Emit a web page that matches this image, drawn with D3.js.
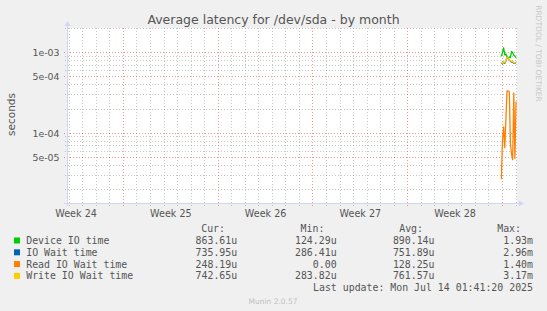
<!DOCTYPE html>
<html><head><meta charset="utf-8">
<script src="https://cdn.jsdelivr.net/npm/d3@7"></script>
<style>html,body{margin:0;padding:0;background:#F0F0F0;overflow:hidden}svg{display:block}</style>
</head><body>
<svg id="chart" width="547" height="311"></svg>
<script>
// ---------- data ----------
const chartTitle = "Average latency for /dev/sda - by month";
const yAxisTitle = "seconds";
const sideText = "RRDTOOL / TOBI OETIKER";
const footerText = "Munin 2.0.57";
const lastUpdate = "Last update: Mon Jul 14 01:41:20 2025";

const timeStart = "2025-06-10T19:55";
const timeEnd = "2025-07-14T01:41";

const times = ["2025-07-12T22:00","2025-07-13T00:00","2025-07-13T02:00","2025-07-13T04:00",
  "2025-07-13T06:00","2025-07-13T08:00","2025-07-13T10:00","2025-07-13T12:00",
  "2025-07-13T14:00","2025-07-13T16:00","2025-07-13T18:00","2025-07-13T20:00",
  "2025-07-13T22:00","2025-07-14T00:00"];

const deviceIO   = [9.0e-4,1.01e-3,1.15e-3,9.4e-4,9.6e-4,8.9e-4,8.6e-4,8.8e-4,8.7e-4,1.04e-3,1.0e-3,9.3e-4,9.1e-4,8.64e-4];
const ioWait     = [7.5e-4,7.3e-4,7.6e-4,7.4e-4,7.9e-4,8.7e-4,8.55e-4,8.0e-4,7.9e-4,7.6e-4,7.7e-4,7.4e-4,7.5e-4,7.36e-4];
const readIOWait = [2.7e-5,8.3e-5,1.2e-4,6.6e-5,1.5e-4,3.35e-4,3.35e-4,3.3e-4,7.5e-5,5.5e-5,4.7e-5,3.16e-4,4.9e-5,2.48e-4];
const writeIOWait= [7.6e-4,7.4e-4,7.7e-4,7.5e-4,8.0e-4,8.8e-4,8.6e-4,8.1e-4,8.0e-4,7.7e-4,7.8e-4,7.5e-4,7.6e-4,7.43e-4];

const seriesNames  = ["Device IO time","IO Wait time","Read IO Wait time","Write IO Wait time"];
const seriesColors = ["#00CC00","#0066B3","#FF8000","#FFCC00"];
const legendHeaders = ["Cur:","Min:","Avg:","Max:"];
const legendCur = ["863.61u","735.95u","248.19u","742.65u"];
const legendMin = ["124.29u","286.41u","0.00","283.82u"];
const legendAvg = ["890.14u","751.89u","128.25u","761.57u"];
const legendMax = ["1.93m","2.96m","1.40m","3.17m"];

const yDomain = [1.365e-5, 2.025e-3];
const yLabelValues = [1e-3, 5e-4, 1e-4, 5e-5];
const yLabelTexts = ["1e-03","5e-04","1e-04","5e-05"];

const weekLabels = ["Week 24","Week 25","Week 26","Week 27","Week 28"];
const weekLabelTimes = ["2025-06-11T12:00","2025-06-18T12:00","2025-06-25T12:00","2025-07-02T12:00","2025-07-09T12:00"];

// ---------- drawing ----------
const parse = d3.timeParse("%Y-%m-%dT%H:%M");
const svg = d3.select("#chart");
const L = 67, R = 517, T = 28, B = 203;
const x = d3.scaleTime().domain([parse(timeStart), parse(timeEnd)]).range([L, R]);
const y = d3.scaleLog().domain(yDomain).range([B, T]);
const px = v => Math.floor(v) + 0.5;

const textCol = "#555555";
const sans = "'DejaVu Sans', sans-serif";
const mono = "'DejaVu Sans Mono', monospace";

svg.append("rect").attr("x",0).attr("y",0).attr("width",547).attr("height",311).attr("fill","#F0F0F0");
svg.append("rect").attr("x",L).attr("y",T).attr("width",R-L).attr("height",B-T).attr("fill","#FFFFFF");

const grid = svg.append("g").attr("shape-rendering","crispEdges").attr("stroke-width",1);
const minorCol = "rgba(143,143,143,0.5)";
const majorCol = "rgba(222,48,40,0.5)";
const dash = "1,2";

// horizontal minor grid
const yMinor = y.ticks().filter(v => !yLabelValues.some(m => Math.abs(m - v) / m < 1e-6));
grid.selectAll(".hmin").data(yMinor).join("line")
  .attr("x1", L - 2).attr("x2", R).attr("y1", d => px(y(d))).attr("y2", d => px(y(d)))
  .attr("stroke", minorCol).attr("stroke-dasharray",dash);
// vertical minor grid (days)
const xDays = d3.timeDay.range(x.domain()[0], x.domain()[1]).filter(d => d.getDay() !== 0);
grid.selectAll(".vmin").data(xDays).join("line")
  .attr("x1", d => px(x(d))).attr("x2", d => px(x(d))).attr("y1", T).attr("y2", B + 3)
  .attr("stroke", minorCol).attr("stroke-dasharray",dash);
// horizontal major grid
grid.selectAll(".hmaj").data(yLabelValues).join("line")
  .attr("x1", L - 3).attr("x2", R).attr("y1", d => px(y(d))).attr("y2", d => px(y(d)))
  .attr("stroke", majorCol).attr("stroke-dasharray",dash);
// vertical major grid (weeks, Sunday)
const xWeeks = d3.timeSunday.range(x.domain()[0], x.domain()[1]);
grid.selectAll(".vmaj").data(xWeeks).join("line")
  .attr("x1", d => px(x(d))).attr("x2", d => px(x(d))).attr("y1", T).attr("y2", B + 3)
  .attr("stroke", majorCol).attr("stroke-dasharray",dash);

// y tick labels
svg.append("g").selectAll("text").data(yLabelValues).join("text")
  .attr("x", 59.5).attr("y", d => y(d)).attr("dy","0.35em")
  .attr("text-anchor","end").attr("font-family",sans).attr("font-size",9.4)
  .attr("fill",textCol).text((d,i) => yLabelTexts[i]);

// week labels
svg.append("g").selectAll("text").data(weekLabelTimes).join("text")
  .attr("x", d => x(parse(d))).attr("y", 216.5)
  .attr("text-anchor","middle").attr("font-family",sans).attr("font-size",9.6)
  .attr("fill",textCol).text((d,i) => weekLabels[i]);

// series
const tParsed = times.map(parse);
const allSeries = [deviceIO, ioWait, readIOWait, writeIOWait];
const line = d3.line().x((d,i) => x(tParsed[i])).y(d => y(d));
svg.append("g").selectAll("path").data(allSeries).join("path")
  .attr("d", d => line(d)).attr("fill","none")
  .attr("stroke", (d,i) => seriesColors[i]).attr("stroke-width",1.3)
  .attr("stroke-linejoin","round");

// axes
const axisCol = "#CFD6F8";
const ax = svg.append("g").attr("shape-rendering","crispEdges");
ax.append("line").attr("x1",L+0.5).attr("x2",L+0.5).attr("y1",B+3).attr("y2",T-2).attr("stroke",axisCol);
ax.append("line").attr("x1",L-3).attr("x2",R+2).attr("y1",B+0.5).attr("y2",B+0.5).attr("stroke",axisCol);
svg.append("path").attr("d",`M${L+0.5},${T-7} L${L+3.5},${T-2} L${L-2.5},${T-2} Z`).attr("fill",axisCol);
svg.append("path").attr("d",`M${R+7},${B+0.5} L${R+2},${B+3.5} L${R+2},${B-2.5} Z`).attr("fill",axisCol);

// title
svg.append("text").attr("x",273.5).attr("y",23.5).attr("text-anchor","middle")
  .attr("font-family",sans).attr("font-size",12.5).attr("fill",textCol).text(chartTitle);

// y axis title
svg.append("text").attr("transform","translate(15,114.5) rotate(-90)").attr("text-anchor","middle")
  .attr("font-family",sans).attr("font-size",10.5).attr("fill",textCol).text(yAxisTitle);

// side text
svg.append("text").attr("transform","translate(535.8,5.2) rotate(90)").attr("text-anchor","start")
  .attr("font-family",sans).attr("font-size",7.5).attr("fill","#C8C8C8").text(sideText);

// legend
const lg = svg.append("g").attr("font-family",mono).attr("font-size",9.9).attr("fill",textCol);
const headerRight = [225, 324.4, 423, 521];
const valueRight = [237.2, 336.6, 434.5, 533];
lg.selectAll(".hdr").data(legendHeaders).join("text")
  .attr("x",(d,i)=>headerRight[i]).attr("y",232).attr("text-anchor","end").text(d=>d);
const rowY = [244, 255.8, 267.6, 279.4];
const cols = [legendCur, legendMin, legendAvg, legendMax];
seriesNames.forEach((name, r) => {
  lg.append("rect").attr("x",14).attr("y",rowY[r]-6.5).attr("width",6).attr("height",6).attr("fill",seriesColors[r]);
  lg.append("text").attr("x",26.2).attr("y",rowY[r]).text(name);
  cols.forEach((c, j) => {
    lg.append("text").attr("x",valueRight[j]).attr("y",rowY[r]).attr("text-anchor","end").text(c[r]);
  });
});
lg.append("text").attr("x",533).attr("y",291.2).attr("text-anchor","end").text(lastUpdate);

svg.append("text").attr("x",273).attr("y",303.5).attr("text-anchor","middle")
  .attr("font-family",sans).attr("font-size",7.5).attr("fill","#C0C0C0").text(footerText);
</script>
</body></html>
